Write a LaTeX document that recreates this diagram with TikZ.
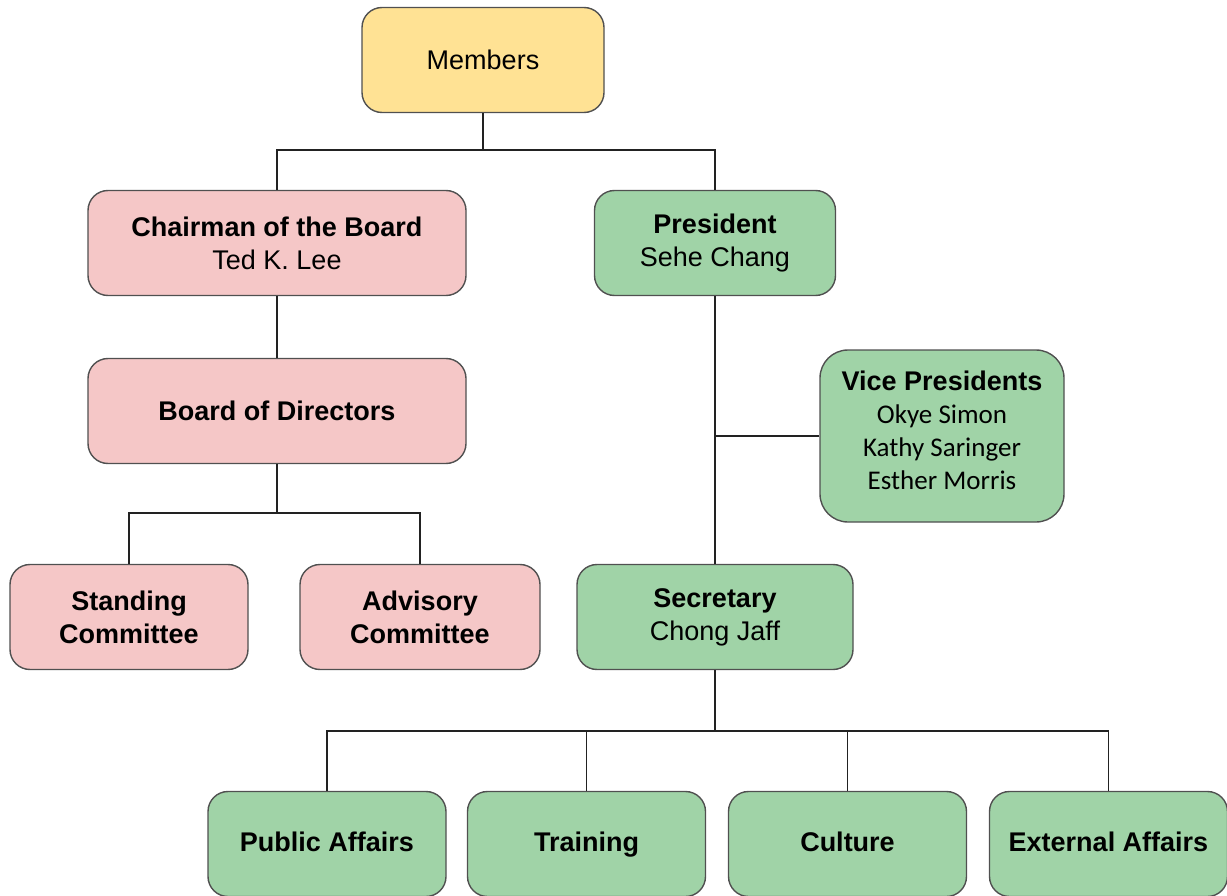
\documentclass[tikz,border=0pt]{standalone}
\usepackage{fontspec}
\setmainfont{Liberation Sans}
\newfontfamily\calibri{Carlito}
\definecolor{memberfill}{HTML}{FFE294}
\definecolor{pinkfill}{HTML}{F5C7C7}
\definecolor{greenfill}{HTML}{A0D3A7}
\definecolor{boxline}{HTML}{505050}
\definecolor{linkcol}{HTML}{222222}

\begin{document}
\begin{tikzpicture}[x=1pt,y=1pt]
	\tikzstyle{every node}+=[inner sep=0pt, align=center, font=\fontsize{27}{33}\selectfont]
	\tikzstyle{box}=[draw=boxline, line width=1.4pt, rounded corners=20pt, minimum width=238pt, minimum height=105pt]
	\tikzstyle{redbox}=[box, fill=pinkfill]
	\tikzstyle{greenbox}=[box, fill=greenfill]
	\tikzstyle{unitbox}=[greenbox, text height=20pt, text depth=6pt]
	\tikzstyle{link}=[draw=linkcol, line width=1.3pt]
	\useasboundingbox (0,0) rectangle (1227,-896);
	\clip (0,0) rectangle (1227,-896);
	% top
	\node [box, fill=memberfill, minimum width=242pt] (members) at (483,-60) {Members};
	% board side
	\node [redbox, minimum width=378pt] (chairman) at (277,-243) {\textbf{Chairman of the Board}\\Ted K. Lee};
	\node [redbox, minimum width=378pt] (board) at (277,-411) {\textbf{Board of Directors}};
	\node [redbox] (standing) at (129,-617) {\textbf{Standing}\\\textbf{Committee}};
	\node [redbox, minimum width=240pt] (advisory) at (420,-617) {\textbf{Advisory}\\\textbf{Committee}};
	% president side
	\node [greenbox, minimum width=241pt] (president) at (715,-243) {\textbf{President}\\Sehe Chang};
	\node [greenbox, minimum width=244pt, minimum height=172pt, rounded corners=28pt] (vp) at (942,-436) {\textbf{Vice Presidents}\\{\calibri Okye Simon}\\{\calibri Kathy Saringer}\\{\calibri Esther Morris}\rule[-12pt]{0pt}{1pt}};
	\node [greenbox, minimum width=276pt] (secretary) at (715,-617) {\textbf{Secretary}\\Chong Jaff};
	\node [unitbox] (public) at (327,-844) {\textbf{Public Affairs}};
	\node [unitbox] (training) at (586.5,-844) {\textbf{Training}};
	\node [unitbox] (culture) at (847.5,-844) {\textbf{Culture}};
	\node [unitbox] (external) at (1108.5,-844) {\textbf{External Affairs}};
	% junctions
	\coordinate (jtop) at (483,-150);
	\coordinate (jboard) at (277,-513);
	\coordinate (jsec) at (715,-731);
	% connectors
	\draw [link] (members.south) -- (jtop);
	\draw [link] (chairman.north) |- (jtop) -| (president.north);
	\draw [link] (chairman.south) -- (board.north);
	\draw [link] (board.south) -- (jboard);
	\draw [link] (standing.north) |- (jboard) -| (advisory.north);
	\draw [link] (president.south) -- (secretary.north);
	\draw [link] (vp.west) -- (vp.west -| president.south);
	\draw [link] (secretary.south) -- (jsec);
	\draw [link] (public.north) |- (jsec) -| (external.north);
	\draw [link] (training.north) |- (jsec);
	\draw [link] (culture.north) |- (jsec);
\end{tikzpicture}
\end{document}
